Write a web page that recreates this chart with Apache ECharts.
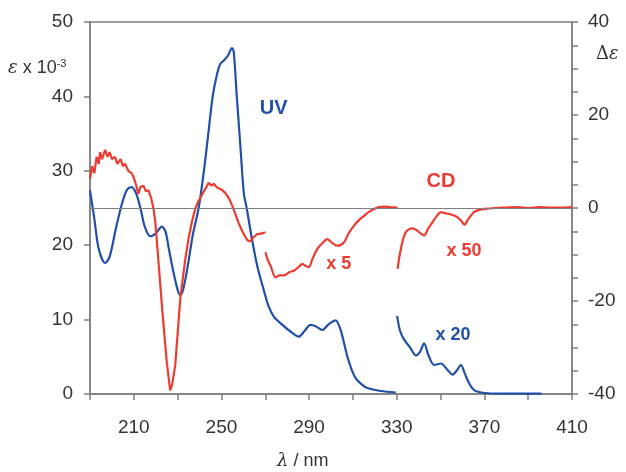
<!DOCTYPE html>
<html>
<head>
<meta charset="utf-8">
<script src="https://cdn.jsdelivr.net/npm/echarts@6/dist/echarts.min.js"></script>
<style>
  html, body { margin: 0; padding: 0; background: #fff; }
  #chart { width: 626px; height: 472px; }
</style>
</head>
<body>
<div id="chart"></div>
<script>
// wavelength (nm), epsilon x 10^-3 (left axis)
var uv = [[190,27.4],[192,23.5],[194,19.5],[196.9,17.6],[199,18.5],[202,22.5],[205,26],[207,27.5],[209,27.8],[211,27],[213,25],[215,22.5],[217.5,21.2],[220,21.6],[222.8,22.5],[224.5,21.8],[226,19.5],[228,16.5],[230,14],[231.2,13.3],[232.5,14],[234.5,17],[237,21.5],[239.6,25],[242,30],[244,35],[246,40],[248,43],[249.5,44.4],[251,44.8],[253,45.5],[254.8,46.5],[255.6,46],[257,40],[258.6,33.5],[260.2,27],[261.5,25],[264,20.7],[266.5,17],[269.3,14],[271.5,11.8],[273.9,10.4],[277,9.5],[281.5,8.4],[285.3,7.7],[288,8.5],[290.7,9.3],[293,9.1],[296,8.6],[299,9.4],[302.1,9.9],[304.4,8.6],[306,6.8],[307.5,5],[309.5,3.2],[311.3,2.1],[314,1.3],[316.6,0.8],[322.7,0.4],[329.6,0.2]];
var uvX20 = [[330.2,10.5],[331.5,8.5],[333.4,7.3],[336,6.3],[338.7,5.2],[340.5,5.6],[342.5,6.8],[344.5,5.2],[347.1,3.9],[350.2,4.1],[353,3.3],[355.5,2.6],[357.5,3.2],[359.3,3.9],[361,2.8],[363.1,1.4],[365,0.6],[367,0.3],[371.6,0.1],[380,0.05],[396,0.05]];

// delta epsilon (right axis)
var cd = [[190,6.2],[191,9],[192,7.5],[193,11],[194,9.5],[194.6,12],[195.5,10.5],[196.9,12.5],[198,11],[199,12],[200,10.5],[201.4,11],[202.5,9.5],[204,10.5],[205,9],[206,9.5],[207.5,8],[209,7.5],[210,6.5],[211,5],[212.1,3],[213,4.5],[214.4,4.8],[215.5,3.6],[216.7,3.8],[218,2],[219,-0.2],[219.8,-3],[221,-10],[223,-22],[225,-33],[226.6,-39.2],[227.5,-38],[228.9,-33.8],[230,-27],[231.2,-19.5],[233.5,-11],[235,-6.5],[236.5,-3],[238,-0.2],[239.5,1.5],[241.1,2.8],[242.5,4],[244.1,5.4],[245.5,4.8],[246.5,5.2],[248,4.4],[250,4],[251.8,3.2],[253.5,2],[254.9,0.5],[256.5,-1.5],[257.9,-3.3],[259.5,-5],[260.9,-6.2],[262,-7],[263.2,-7.2],[264,-6.6],[266.3,-5.6],[268,-5.5],[270.1,-5.2]];
var cdX5 = [[270.1,-9.5],[271,-11],[272.4,-12.4],[274.7,-14.9],[276.5,-14.5],[278.5,-14.5],[281,-13.8],[283,-13.5],[285,-12.8],[286.9,-12],[288.5,-12.5],[289.9,-12.7],[291.5,-11],[293.8,-8.8],[296,-7.6],[298.3,-6.7],[300.5,-7.5],[302.9,-8.1],[305.9,-7.4],[308,-5.5],[310.5,-3.8],[313,-2.5],[315.1,-1.7],[317.5,-0.8],[319.7,-0.2],[322,0.2],[324.2,0.3],[327,0.2],[330.4,0.1]];
var cdX50 = [[330.4,-13.1],[331.2,-10.5],[331.9,-8.8],[333,-6.5],[334.2,-5.2],[335.5,-4.6],[337.2,-4.4],[338.5,-4.6],[339.5,-4.9],[341,-5.5],[342.5,-5.9],[344.5,-4.3],[346.3,-3.1],[348.3,-1.7],[350.2,-0.9],[352,-1.1],[354,-1.3],[356,-1.6],[357.8,-2],[359.5,-2.8],[360.9,-3.6],[362.5,-2.5],[363.9,-1.6],[365.5,-0.8],[367.7,-0.4],[370,-0.2],[375,0],[380,0.1],[385,0.2],[390,0],[395,0.2],[400,0.1],[405,0.1],[410,0.2]];

var xTickLabels = [210, 250, 290, 330, 370, 410];
var rightTickLabels = [-40, -20, 0, 20, 40];

var blue = '#2250a6';
var red = '#ec3b30';
var axisGray = '#7f7f7f';
var font = 'Liberation Sans, Arial, sans-serif';

var chart = echarts.init(document.getElementById('chart'));

function lineSeries(name, data, color, yIdx, smooth) {
  return {
    name: name,
    type: 'line',
    data: data,
    yAxisIndex: yIdx,
    showSymbol: false,
    smooth: smooth,
    lineStyle: { color: color, width: 2.2 },
    itemStyle: { color: color },
    animation: false
  };
}

function tag(text, color, x, y, size) {
  return {
    coord: [x, y],
    value: text,
    symbol: 'circle',
    symbolSize: 1,
    itemStyle: { color: 'rgba(0,0,0,0)' },
    label: { show: true, formatter: text, color: color, fontWeight: 'bold', fontSize: size, fontFamily: font, position: 'inside' }
  };
}

var uvS = lineSeries('UV', uv, blue, 0, 0.3);
uvS.markPoint = { silent: true, animation: false, data: [tag('UV', blue, 273.8, 38.4, 20)] };
var uv20S = lineSeries('UV x 20', uvX20, blue, 0, 0.3);
uv20S.markPoint = { silent: true, animation: false, data: [tag('x 20', blue, 355.7, 7.9, 18)] };
var cdS = lineSeries('CD', cd, red, 1, false);
cdS.markLine = {
  silent: true, symbol: 'none', animation: false,
  lineStyle: { color: axisGray, width: 1, type: 'solid' },
  label: { show: false },
  data: [{ yAxis: 0 }]
};
var cd5S = lineSeries('CD x 5', cdX5, red, 1, 0.3);
cd5S.markPoint = { silent: true, animation: false, data: [tag('x 5', red, 303.5, -12, 18)] };
var cd50S = lineSeries('CD x 50', cdX50, red, 1, 0.3);
cd50S.markPoint = { silent: true, animation: false, data: [tag('x 50', red, 360.7, -9.2, 18), tag('CD', red, 350.2, 5.6, 20)] };

chart.setOption({
  animation: false,
  grid: { left: 90, right: 54, top: 22, bottom: 78, show: true, borderColor: axisGray, borderWidth: 1.5 },
  xAxis: {
    type: 'value', min: 190, max: 410, interval: 20,
    axisLine: { lineStyle: { color: axisGray, width: 1.5 } },
    axisTick: { length: 6, lineStyle: { color: axisGray, width: 1.5 } },
    splitLine: { show: false },
    axisLabel: {
      color: '#333', fontSize: 19, fontFamily: font, margin: 24,
      formatter: function (v) { return xTickLabels.indexOf(v) >= 0 ? String(v) : ''; }
    }
  },
  yAxis: [{
    type: 'value', min: 0, max: 50, interval: 10,
    axisLine: { show: true, lineStyle: { color: axisGray, width: 1.5 } },
    axisTick: { show: true, length: 6, lineStyle: { color: axisGray, width: 1.5 } },
    splitLine: { show: false },
    axisLabel: { color: '#333', fontSize: 19, fontFamily: font, margin: 17 }
  }, {
    type: 'value', min: -40, max: 40, interval: 5, position: 'right',
    axisLine: { show: true, lineStyle: { color: axisGray, width: 1.5 } },
    axisTick: { show: true, length: 6, lineStyle: { color: axisGray, width: 1.5 } },
    splitLine: { show: false },
    axisLabel: {
      color: '#333', fontSize: 19, fontFamily: font, margin: 16,
      formatter: function (v) { return rightTickLabels.indexOf(v) >= 0 ? String(v) : ''; }
    }
  }],
  graphic: [{
    type: 'text', left: 8, top: 58,
    style: {
      text: '{e|ε}{t| x 10}{s|-3}',
      rich: {
        e: { fontFamily: 'DejaVu Serif, serif', fontStyle: 'italic', fontSize: 18, fill: '#333' },
        t: { fontFamily: font, fontSize: 18, fill: '#333' },
        s: { fontFamily: font, fontSize: 11, fill: '#333', padding: [0, 0, 10, 0] }
      }
    }
  }, {
    type: 'text', left: 596, top: 45,
    style: {
      text: 'Δ{e|ε}',
      fontFamily: 'DejaVu Serif, serif', fontSize: 18, fill: '#333',
      rich: { e: { fontFamily: 'DejaVu Serif, serif', fontStyle: 'italic', fontSize: 18, fill: '#333' } }
    }
  }, {
    type: 'text', left: 277, top: 452,
    style: {
      text: '{l|λ}{t| / nm}',
      rich: {
        l: { fontFamily: 'DejaVu Serif, serif', fontStyle: 'italic', fontSize: 18, fill: '#333' },
        t: { fontFamily: font, fontSize: 18, fill: '#333' }
      }
    }
  }],
  series: [uvS, uv20S, cdS, cd5S, cd50S]
});
</script>
</body>
</html>
